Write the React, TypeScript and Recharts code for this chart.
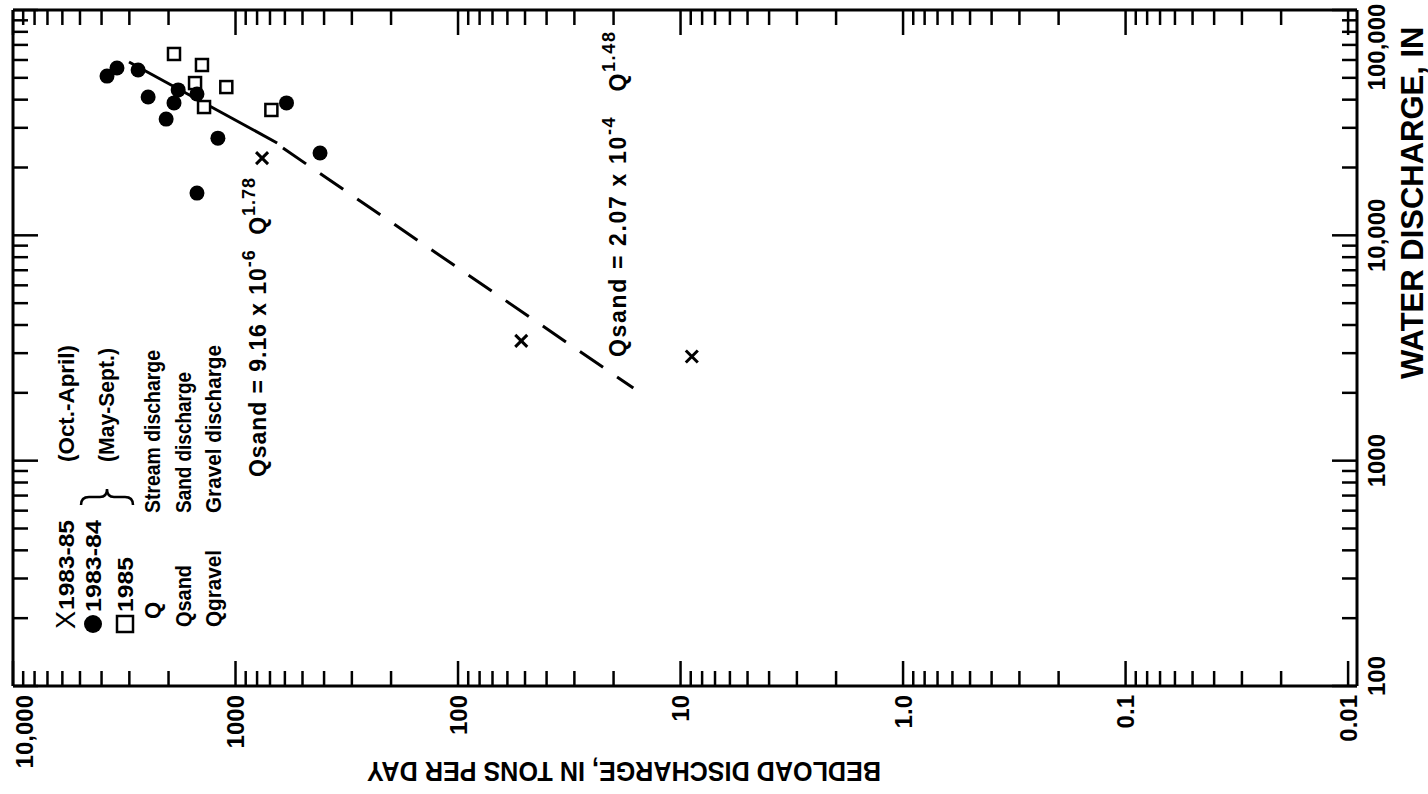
import React from 'react';
import { ScatterChart, Scatter, XAxis, YAxis } from 'recharts';

const FONT = '"Liberation Sans", Arial, Helvetica, sans-serif';

// bedload discharge (tons/day) against water discharge (ft3/s)
const octAprilQs = [760, 52, 8.9];
const octAprilQ = [22000, 3400, 2900];
const maySept8384Qs = [3780, 3410, 2740, 2470, 1810, 1890, 2050, 1490, 1200, 1490, 590, 417];
const maySept8384Q = [50900, 55300, 54200, 41100, 44200, 38700, 32800, 42400, 27000, 15400, 38700, 23200];
const maySept85Qs = [1890, 1415, 1520, 1100, 1385, 690];
const maySept85Q = [63800, 57000, 47400, 45500, 37100, 36000];
const fitSolidQs = [3010, 650];
const fitSolidQ = [58800, 25700];
const fitDashedQs = [612, 16.3];
const fitDashedQ = [24400, 2100];

const xMajors = [10000, 1000, 100, 10, 1, 0.1, 0.01];
const yMajors = [100000, 10000, 1000, 100];
const xLabels = ['10,000', '1000', '100', '10', '1.0', '0.1', '0.01'];
const yLabels = ['100,000', '10,000', '1000', '100'];
const xDecades = [0.01, 0.1, 1, 10, 100, 1000];
const minorSteps = [2, 3, 4, 5, 6, 7, 8, 9];

const X_DOMAIN: [number, number] = [0.00912, 10000];
const Y_DOMAIN: [number, number] = [100, 100000];

const CHART_W = 1428;
const CHART_H = 794;
const TOP_H = 10;
const BOTTOM_H = 108;
const PLOT_TOP = TOP_H;
const PLOT_BOTTOM = CHART_H - BOTTOM_H;

const xMinors = xDecades.flatMap((d) => minorSteps.map((m) => m * d));
// the x axes take their ticks from the values of the series bound to them
const xMajorCarrier = xMajors.map((qs) => ({ qs, q: 1000 }));
const xMinorCarrier = xMinors.map((qs) => ({ qs, q: 1000 }));

const zip = (a: number[], b: number[]) => a.map((qs, i) => ({ qs, q: b[i] }));
const octApril = zip(octAprilQs, octAprilQ);
const maySept8384 = zip(maySept8384Qs, maySept8384Q);
const maySept85 = zip(maySept85Qs, maySept85Q);
const fitSolid = zip(fitSolidQs, fitSolidQ);
const fitDashed = zip(fitDashedQs, fitDashedQ);

const isMajor = (v: number) => {
  const l = Math.log10(v);
  return Math.abs(l - Math.round(l)) < 1e-6;
};
const labelOf = (majors: number[], labels: string[], v: number) => {
  const i = majors.findIndex((m) => Math.abs(m - v) / m < 1e-6);
  return i >= 0 ? labels[i] : null;
};

const MAJOR = 25;
const MINOR = 15;
const TICK_W = 2.5;

const BottomTick = (props: any) => {
  const { x, y, payload } = props;
  const len = isMajor(payload.value) ? MAJOR : MINOR;
  const lab = labelOf(xMajors, xLabels, payload.value);
  return (
    <g>
      <line x1={x} y1={y} x2={x} y2={y - len} stroke="#000" strokeWidth={TICK_W} />
      {lab && (
        <text
          transform={`translate(${Math.max(x, 24)},${y + 9}) rotate(-90)`}
          textAnchor="end"
          dominantBaseline="central"
          fontFamily={FONT}
          fontWeight="bold"
          fontSize={24}
          fill="#000"
        >
          {lab}
        </text>
      )}
    </g>
  );
};

const TopTick = (props: any) => {
  const { x, y, payload } = props;
  const len = isMajor(payload.value) ? MAJOR : MINOR;
  return <line x1={x} y1={y} x2={x} y2={y + len} stroke="#000" strokeWidth={TICK_W} />;
};

const RightTick = (props: any) => {
  const { x, y, payload } = props;
  const len = isMajor(payload.value) ? MAJOR : MINOR;
  const lab = labelOf(yMajors, yLabels, payload.value);
  const hw = lab ? lab.length * 6 : 0;
  const yc = Math.min(Math.max(y, 5 + hw), PLOT_BOTTOM + 8 - hw);
  return (
    <g>
      <line x1={x} y1={y} x2={x - len} y2={y} stroke="#000" strokeWidth={TICK_W} />
      {lab && (
        <text
          transform={`translate(${x + 19},${yc}) rotate(-90)`}
          textAnchor="middle"
          dominantBaseline="central"
          fontFamily={FONT}
          fontWeight="bold"
          fontSize={24}
          fill="#000"
        >
          {lab}
        </text>
      )}
    </g>
  );
};

const LeftTick = (props: any) => {
  const { x, y, payload } = props;
  const len = isMajor(payload.value) ? MAJOR : MINOR;
  return <line x1={x} y1={y} x2={x + len} y2={y} stroke="#000" strokeWidth={TICK_W} />;
};

// minor x ticks: x comes from the scale, stubs sit on the top and bottom frame
const XMinorStub = (p: any) => (
  <g stroke="#000" strokeWidth={TICK_W}>
    <line x1={p.cx} y1={PLOT_TOP} x2={p.cx} y2={PLOT_TOP + MINOR} />
    <line x1={p.cx} y1={PLOT_BOTTOM} x2={p.cx} y2={PLOT_BOTTOM - MINOR} />
  </g>
);

const Dot = (p: any) => <circle cx={p.cx} cy={p.cy} r={7.5} fill="#000" />;
const Box = (p: any) => (
  <rect x={p.cx - 6} y={p.cy - 6} width={12} height={12} fill="#fff" stroke="#000" strokeWidth={2.5} />
);
const Cross = (p: any) => (
  <g stroke="#000" strokeWidth={3}>
    <line x1={p.cx - 6} y1={p.cy - 6} x2={p.cx + 6} y2={p.cy + 6} />
    <line x1={p.cx - 6} y1={p.cy + 6} x2={p.cx + 6} y2={p.cy - 6} />
  </g>
);
const Nothing = () => <g />;

const axisLine = { stroke: '#000', strokeWidth: 3 };

const txt = {
  fontFamily: FONT,
  fontWeight: 'bold' as const,
  fill: '#000',
};

const Vert = ({ x, y, size = 22, len, children }: any) => (
  <text
    transform={`translate(${x},${y}) rotate(-90)`}
    dominantBaseline="central"
    fontSize={size}
    textLength={len}
    lengthAdjust={len ? 'spacingAndGlyphs' : undefined}
    {...txt}
  >
    {children}
  </text>
);

const Annotations = () => (
  <svg width={CHART_W} height={CHART_H} style={{ position: 'absolute', left: 0, top: 0, pointerEvents: 'none' }}>
    {/* legend */}
    <text transform="translate(66,629) rotate(-90)" dominantBaseline="central" fontSize={27} fontFamily={FONT} fill="#000">
      X
    </text>
    <Vert x={66} y={610} len={90}>1983-85</Vert>
    <Vert x={66} y={462} len={117}>(Oct.-April)</Vert>
    <circle cx={93} cy={624} r={9} fill="#000" />
    <Vert x={93} y={612} len={92}>1983-84</Vert>
    <rect x={117} y={616} width={16} height={16} fill="#fff" stroke="#000" strokeWidth={2.5} />
    <Vert x={125} y={612} len={55}>1985</Vert>
    <path
      d="M81,505 Q81,497 89,497 L100,497 Q107,497 107,489 Q107,497 114,497 L125,497 Q133,497 133,505"
      fill="none"
      stroke="#000"
      strokeWidth={2.5}
    />
    <Vert x={106} y={462} len={114}>(May-Sept.)</Vert>
    <Vert x={152} y={619}>Q</Vert>
    <Vert x={152} y={513} len={163}>Stream discharge</Vert>
    <Vert x={183} y={627} len={62}>Qsand</Vert>
    <Vert x={183} y={513} len={141}>Sand discharge</Vert>
    <Vert x={213} y={627} len={77}>Qgravel</Vert>
    <Vert x={213} y={513} len={168}>Gravel discharge</Vert>

    {/* regression equations */}
    <text
      transform="translate(258,477) rotate(-90)"
      dominantBaseline="central"
      fontSize={23}
      textLength={299}
      {...txt}
    >
      Qsand = 9.16 x 10
      <tspan fontSize={18} dy={-9}>-6</tspan>
      <tspan dy={9}>{'\u00a0\u00a0'}Q</tspan>
      <tspan fontSize={18} dy={-9}>1.78</tspan>
    </text>
    <text
      transform="translate(618,357) rotate(-90)"
      dominantBaseline="central"
      fontSize={23}
      textLength={325}
      {...txt}
    >
      Qsand = 2.07 x 10
      <tspan fontSize={18} dy={-9}>-4</tspan>
      <tspan dy={9}>{'\u00a0\u00a0\u00a0'}Q</tspan>
      <tspan fontSize={18} dy={-9}>1.48</tspan>
    </text>

    {/* axis titles */}
    <text transform="translate(1412,379) rotate(-90)" dominantBaseline="central" fontSize={31} {...txt}>
      WATER DISCHARGE, IN
    </text>
    <text
      transform="translate(624,771) rotate(180)"
      textAnchor="middle"
      dominantBaseline="central"
      fontSize={28}
      textLength={514}
      lengthAdjust="spacingAndGlyphs"
      {...txt}
    >
      BEDLOAD DISCHARGE, IN TONS PER DAY
    </text>
  </svg>
);

const logX = { type: 'number' as const, dataKey: 'qs', scale: 'log' as const, domain: X_DOMAIN, allowDataOverflow: true, reversed: true };
const logY = { type: 'number' as const, dataKey: 'q', scale: 'log' as const, domain: Y_DOMAIN, allowDataOverflow: true };
const bare = { interval: 0, tickLine: false, tickSize: 0, tickMargin: 0, axisLine };

export default function App() {
  return (
    <div style={{ position: 'absolute', left: 0, top: 0, width: CHART_W, height: CHART_H, background: '#fff' }}>
      <ScatterChart width={CHART_W} height={CHART_H} margin={{ top: 0, right: 0, bottom: 0, left: 0 }}>
        <XAxis xAxisId="b" orientation="bottom" {...logX} {...bare} tick={BottomTick} height={BOTTOM_H} />
        <XAxis xAxisId="t" orientation="top" {...logX} {...bare} tick={TopTick} height={TOP_H} />
        <XAxis xAxisId="d" orientation="bottom" {...logX} hide height={0} />
        <YAxis yAxisId="r" orientation="right" {...logY} {...bare} tick={RightTick} width={71} />
        <YAxis yAxisId="l" orientation="left" {...logY} {...bare} tick={LeftTick} width={13} />
        <Scatter xAxisId="b" yAxisId="r" data={xMajorCarrier} shape={Nothing} isAnimationActive={false} />
        <Scatter xAxisId="t" yAxisId="l" data={xMajorCarrier} shape={Nothing} isAnimationActive={false} />
        <Scatter xAxisId="d" yAxisId="r" data={xMinorCarrier} shape={XMinorStub} isAnimationActive={false} />
        <Scatter
          xAxisId="d"
          yAxisId="r"
          data={fitSolid}
          line={{ stroke: '#000', strokeWidth: 3 }}
          lineType="joint"
          shape={Nothing}
          isAnimationActive={false}
        />
        <Scatter
          xAxisId="d"
          yAxisId="r"
          data={fitDashed}
          line={{ stroke: '#000', strokeWidth: 3, strokeDasharray: '28 17' }}
          lineType="joint"
          shape={Nothing}
          isAnimationActive={false}
        />
        <Scatter xAxisId="d" yAxisId="r" data={maySept85} shape={Box} isAnimationActive={false} />
        <Scatter xAxisId="d" yAxisId="r" data={maySept8384} shape={Dot} isAnimationActive={false} />
        <Scatter xAxisId="d" yAxisId="r" data={octApril} shape={Cross} isAnimationActive={false} />
      </ScatterChart>
      <Annotations />
    </div>
  );
}
